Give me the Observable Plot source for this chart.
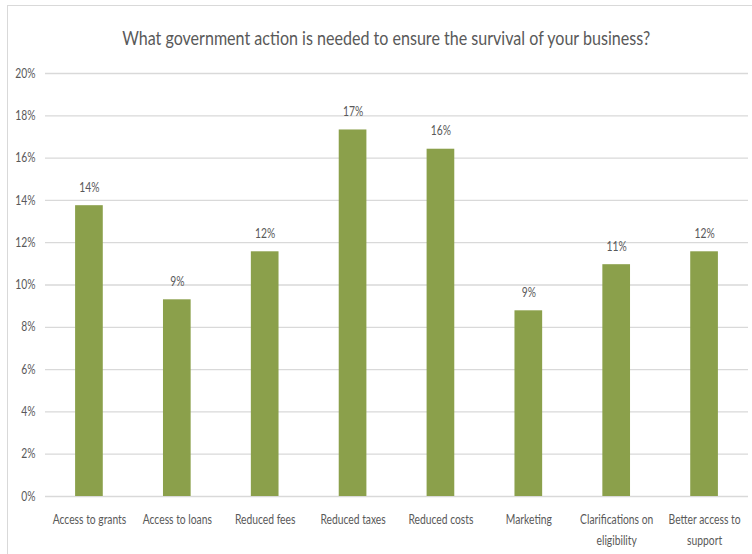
<!DOCTYPE html>
<html><head><meta charset="utf-8">
<script src="https://cdn.jsdelivr.net/npm/d3@7"></script>
<script src="https://cdn.jsdelivr.net/npm/@observablehq/plot@0.6"></script>
<style>
body{margin:0;background:#fff;}
#wrap{position:relative;width:752px;height:554px;overflow:hidden;font-family:Lato,"Open Sans",sans-serif;}
#frame{position:absolute;left:7px;top:5px;width:760px;height:560px;border:1.5px solid #d9d9d9;box-sizing:border-box;}
#title{position:absolute;top:26px;left:0;width:772px;text-align:center;font-size:19px;color:#595959;white-space:nowrap;}
#title span{display:inline-block;transform-origin:center;}
#chart{position:absolute;top:60px;left:0;}
</style></head><body>
<div id="wrap"><div id="frame"></div><div id="title"><span>What government action is needed to ensure the survival of your business?</span></div><div id="chart"></div></div>
<script>
const categories = ["Access to grants","Access to loans","Reduced fees","Reduced taxes","Reduced costs","Marketing","Clarifications on eligibility","Better access to support"];
const tickLabels = ["Access to grants","Access to loans","Reduced fees","Reduced taxes","Reduced costs","Marketing","Clarifications on\neligibility","Better access to\nsupport"];
const values = [13.75, 9.3, 11.57, 17.33, 16.42, 8.78, 10.96, 11.57];
const valueLabels = ["14%","9%","12%","17%","16%","9%","11%","12%"];
const yTicks = [0,2,4,6,8,10,12,14,16,18,20];

const data = categories.map((c,i)=>({cat:c, value:values[i], label:valueLabels[i]}));
const tickMap = new Map(categories.map((c,i)=>[c,tickLabels[i]]));

const chart = Plot.plot({
  width:752, height:494,
  marginLeft:45, marginRight:4, marginTop:13, marginBottom:58,
  style:{fontFamily:'Lato,"Open Sans",sans-serif', color:"#595959", background:"transparent", overflow:"visible"},
  x:{domain:categories, paddingInner:0.685, paddingOuter:0.3425, round:false, label:null},
  y:{domain:[0,20], label:null},
  marks:[
    Plot.gridY(yTicks,{stroke:"#d9d9d9", strokeOpacity:1, strokeWidth:1.3}),
    Plot.barY(data,{x:"cat", y:"value", fill:"#8BA04B"}),
    Plot.text(data,{x:"cat", y:"value", text:"label", dy:-18, fontSize:13, fill:"#595959"}),
    Plot.axisY(yTicks,{tickSize:0, tickPadding:10, tickFormat:d=>d+"%", fontSize:13, label:null}),
    Plot.axisX({tickSize:0, tickPadding:13, lineHeight:1.6, fontSize:13, tickFormat:d=>tickMap.get(d), label:null})
  ]
});
document.getElementById("chart").appendChild(chart);

// condense text horizontally to mimic the narrow original typeface
const texts = chart.querySelectorAll("text");
let ref = null;
texts.forEach(t=>{ if (t.textContent.startsWith("Access to grants")) ref = t; });
let sx = 0.82;
if (ref) { const w = ref.getBBox().width; if (w > 0) sx = 74 / w; }
texts.forEach(t=>{
  const tr = t.getAttribute("transform");
  t.setAttribute("transform", (tr ? tr + " " : "") + `scale(${sx},1)`);
});
const span = document.querySelector("#title span");
const tw = span.getBoundingClientRect().width;
span.style.transform = `scaleX(${528 / tw})`;
</script>
</body></html>
